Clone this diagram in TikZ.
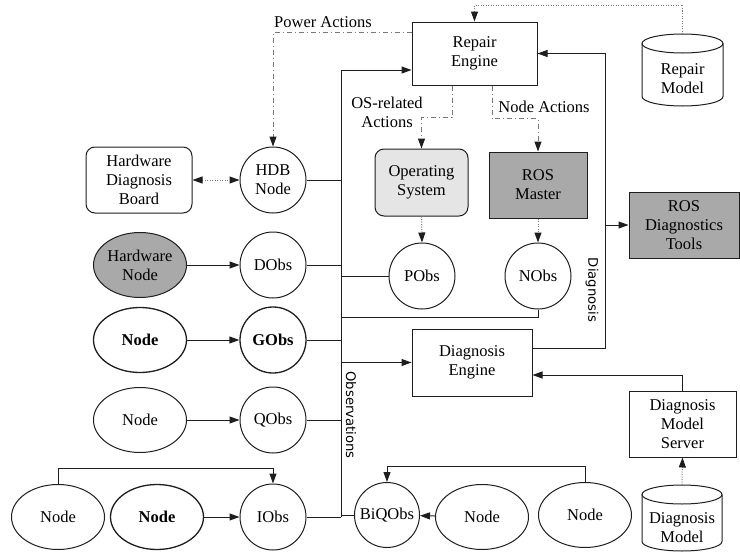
\documentclass[tikz,border=0pt]{standalone}
\usepackage{fontspec}
\setmainfont{Liberation Serif}
\newfontfamily\sidefont{DejaVu Sans}
\usetikzlibrary{arrows.meta,shapes.geometric}
\definecolor{wire}{RGB}{30,30,30}
\definecolor{hint}{RGB}{120,120,120}
\definecolor{shade}{RGB}{169,169,169}
\definecolor{lightshade}{RGB}{229,229,229}

\begin{document}
\begin{tikzpicture}[
  x=1pt,
  y=-1pt,
  line width=1pt,
  every node/.style={font=\fontsize{16.5}{19}\selectfont,align=center},
  box/.style={draw=wire,fill=white,inner sep=0pt},
  rbox/.style={box,rounded corners=9pt},
  obs/.style={circle,draw=wire,fill=white,minimum size=66pt,inner sep=0pt},
  src/.style={ellipse,draw=wire,fill=white,minimum width=93pt,
    minimum height=65pt,inner sep=0pt},
  heavy/.style={line width=1.3pt,font=\fontsize{16.5}{19}\selectfont\bfseries},
  flow/.style={draw=wire,-{Triangle[length=10pt,width=7pt]}},
  link/.style={draw=wire},
  act/.style={draw=hint,dash pattern=on 5pt off 3pt on 1pt off 3pt,
    -{Triangle[length=10pt,width=7pt,color=wire]}},
  dots/.style={draw=hint,dash pattern=on 1pt off 1.5pt,
    -{Triangle[length=10pt,width=7pt,color=wire]}},
  side/.style={font=\sidefont\fontsize{13.2}{16}\selectfont,rotate=-90}
]
\useasboundingbox (0,0) rectangle (740,554);

\node[box,minimum width=125pt,minimum height=63pt] (reng) at (474.5,53.5) {Repair\\Engine};
\node (repm) at (682.5,78.5) {Repair\\Model};
\coordinate (repmtop) at (682.5,34);
\draw[wire] (642,43.5) -- (642,96.5)
  arc[start angle=180,end angle=360,x radius=40.5pt,y radius=9.5pt] -- (723,43.5);
\draw[wire] (682.5,43.5) ellipse [x radius=40.5pt,y radius=9.5pt];

\node[rbox,minimum width=106pt,minimum height=66pt] (hdbb) at (139,180) {Hardware\\Diagnosis\\Board};
\node[obs] (hdbn) at (273,180) {HDB\\Node};
\node[src,fill=shade] (hwn) at (140,265) {Hardware\\Node};
\node[obs] (dobs) at (273,265) {DObs};
\node[src,heavy] (gnode) at (140,340) {Node};
\node[obs,heavy] (gobs) at (273,340) {GObs};
\node[src] (qnode) at (140,420) {Node};
\node[obs] (qobs) at (273,420) {QObs};
\node[src] (inodea) at (58,517) {Node};
\node[src,heavy] (inodeb) at (157,517) {Node};
\node[obs] (iobs) at (273,517) {IObs};

\node[rbox,fill=lightshade,minimum width=93pt,minimum height=67pt] (os) at (421.5,182.5) {Operating\\System};
\node[box,fill=shade,minimum width=98pt,minimum height=66pt] (rosm) at (538,185) {ROS\\Master};
\node[obs] (pobs) at (422,276) {PObs};
\node[obs] (nobs) at (538,276) {NObs};
\node[box,fill=shade,minimum width=110pt,minimum height=66pt] (rdt) at (684,225) {ROS\\Diagnostics\\Tools};

\node[box,minimum width=120pt,minimum height=67pt] (deng) at (472,362.5) {Diagnosis\\Engine};
\node[box,minimum width=107pt,minimum height=66pt] (dms) at (682.5,424) {Diagnosis\\Model\\Server};
\node (dmod) at (682,528) {Diagnosis\\Model};
\coordinate (dmodtop) at (682,485);
\draw[wire] (642,494.5) -- (642,541.5)
  arc[start angle=180,end angle=360,x radius=40pt,y radius=9.5pt] -- (722,494.5);
\draw[wire] (682,494.5) ellipse [x radius=40pt,y radius=9.5pt];

\node[obs,minimum size=65pt] (biq) at (387,515) {BiQObs};
\node[src] (bnodea) at (482,517) {Node};
\node[src] (bnodeb) at (585,515) {Node};

\node (pwr) at (323,22) {Power Actions};
\node (osact) at (387,112.5) {OS-related\\Actions};
\node (nact) at (544,107) {Node Actions};
\node[side] (obslbl) at (351,415) {Observations};
\node[side] (diaglbl) at (592,290) {Diagnosis};

\draw[dots] (repmtop) -- ++(0,-29) -| (reng.north);
\draw[act] ([yshift=21.5pt]reng.west) -| (hdbn.north);
\draw[act] ([xshift=-22.5pt]reng.south) -- ++(0,32) -| (os.north);
\draw[act] ([xshift=17.5pt]reng.south) -- ++(0,33) -| (rosm.north);
\draw[dots] (os.south) -- (pobs.north);
\draw[dots] (rosm.south) -- (nobs.north);
\draw[dots,{Triangle[length=10pt,width=7pt,color=wire]}-{Triangle[length=10pt,width=7pt,color=wire]}]
  (hdbb.east) -- (hdbn.west);

\draw[flow] (hwn) -- (dobs);
\draw[flow] (gnode) -- (gobs);
\draw[flow] (qnode) -- (qobs);
\draw[flow] (inodeb) -- (iobs);
\draw[flow] (inodea.north) -- ++(0,-16) -| (iobs.north);
\draw[flow] (bnodea) -- (biq);
\draw[flow] (bnodeb.north) -- ++(0,-16) -| (biq.north);

\coordinate (bust) at (341,70);
\coordinate (busb) at (341,517);
\draw[flow] (busb) -- (bust) -- (bust -| reng.west);
\draw[link] (hdbn.east) -- (hdbn.east -| bust);
\draw[link] (dobs.east) -- (dobs.east -| bust);
\draw[link] (gobs.east) -- (gobs.east -| bust);
\draw[link] (qobs.east) -- (qobs.east -| bust);
\draw[link] (iobs.east) -- (busb);
\draw[link] (biq.west) -- (biq.west -| bust);
\draw[link] (pobs.west) -- (pobs.west -| bust);
\draw[link] (nobs.south) |- ([yshift=-8pt]nobs.south -| bust);
\draw[flow] (deng.west -| bust) -- (deng.west);

\coordinate (diagbus) at (605,53.5);
\draw[flow] ([yshift=14.5pt]deng.east) -| (diagbus) -- (reng.east);
\draw[flow] (rdt.west -| diagbus) -- (rdt.west);
\draw[flow] (dms.north) |- ([yshift=-12.5pt]deng.east);
\draw[dots] (dmodtop) -- (dms.south);
\end{tikzpicture}
\end{document}
